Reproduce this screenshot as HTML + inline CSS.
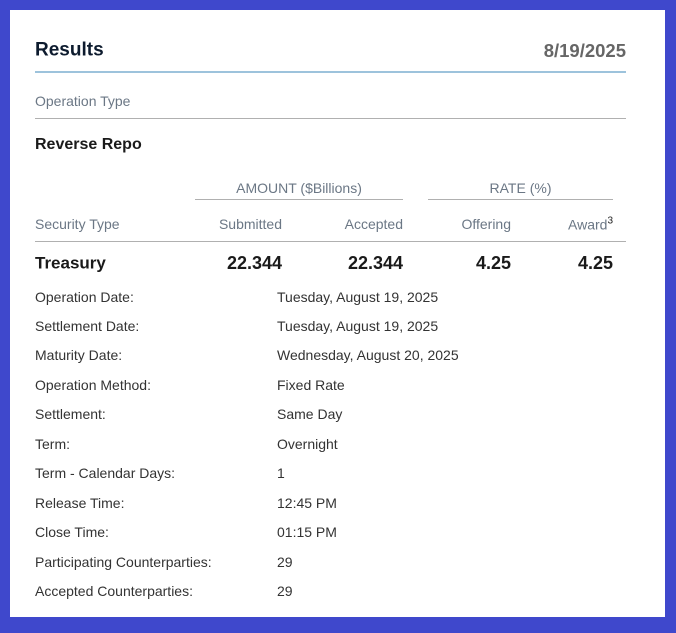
<!DOCTYPE html>
<html><head><meta charset="utf-8"><style>
body{margin:0;width:676px;height:633px;background:#3f48cc;position:relative;overflow:hidden;font-family:"Liberation Sans",sans-serif;}
#card{position:absolute;left:10px;top:10px;width:655px;height:607px;background:#fff;}
.t{position:absolute;white-space:nowrap;line-height:1;transform:translateY(-50%);}
.l{position:absolute;height:1px;}
.g{color:#6b7785;font-size:14px;}
.d{color:#333;font-size:14px;}
.b{color:#1a1a1a;font-weight:bold;font-size:18px;}
.r{text-align:right;}
</style></head><body>
<div id="card"></div>
<div class="t" style="left:35px;top:50px;font-size:19px;font-weight:bold;color:#0d1b2e">Results</div>
<div class="t" style="right:50px;top:51px;font-size:18.5px;font-weight:bold;color:#666">8/19/2025</div>
<div class="l" style="left:35px;width:591px;top:71px;height:2px;background:#9dc3dc"></div>
<div class="t g" style="left:35px;top:101px">Operation Type</div>
<div class="l" style="left:35px;width:591px;top:118px;background:#b0b0b0"></div>
<div class="t" style="left:35px;top:145px;font-size:16px;font-weight:bold;color:#1a1a1a">Reverse Repo</div>
<div class="t g" style="left:195px;width:208px;text-align:center;top:188px">AMOUNT ($Billions)</div>
<div class="l" style="left:195px;width:208px;top:199px;background:#b0b0b0"></div>
<div class="t g" style="left:428px;width:185px;text-align:center;top:188px">RATE (%)</div>
<div class="l" style="left:428px;width:185px;top:199px;background:#b0b0b0"></div>
<div class="t g" style="left:35px;top:224px">Security Type</div>
<div class="t g r" style="right:394px;top:224px">Submitted</div>
<div class="t g r" style="right:273px;top:224px">Accepted</div>
<div class="t g r" style="right:165px;top:224px">Offering</div>
<div class="t g r" style="right:63px;top:224px">Award<sup style="font-size:10px;color:#222">3</sup></div>
<div class="l" style="left:35px;width:591px;top:241px;background:#b0b0b0"></div>
<div class="t b" style="left:35px;top:263px;font-size:17px">Treasury</div>
<div class="t b r" style="right:394px;top:263px">22.344</div>
<div class="t b r" style="right:273px;top:263px">22.344</div>
<div class="t b r" style="right:165px;top:263px">4.25</div>
<div class="t b r" style="right:63px;top:263px">4.25</div>
<div class="t d" style="left:35px;top:297px">Operation Date:</div><div class="t d" style="left:277px;top:297px">Tuesday, August 19, 2025</div>
<div class="t d" style="left:35px;top:326px">Settlement Date:</div><div class="t d" style="left:277px;top:326px">Tuesday, August 19, 2025</div>
<div class="t d" style="left:35px;top:355px">Maturity Date:</div><div class="t d" style="left:277px;top:355px">Wednesday, August 20, 2025</div>
<div class="t d" style="left:35px;top:385px">Operation Method:</div><div class="t d" style="left:277px;top:385px">Fixed Rate</div>
<div class="t d" style="left:35px;top:414px">Settlement:</div><div class="t d" style="left:277px;top:414px">Same Day</div>
<div class="t d" style="left:35px;top:444px">Term:</div><div class="t d" style="left:277px;top:444px">Overnight</div>
<div class="t d" style="left:35px;top:473px">Term - Calendar Days:</div><div class="t d" style="left:277px;top:473px">1</div>
<div class="t d" style="left:35px;top:503px">Release Time:</div><div class="t d" style="left:277px;top:503px">12:45 PM</div>
<div class="t d" style="left:35px;top:532px">Close Time:</div><div class="t d" style="left:277px;top:532px">01:15 PM</div>
<div class="t d" style="left:35px;top:562px">Participating Counterparties:</div><div class="t d" style="left:277px;top:562px">29</div>
<div class="t d" style="left:35px;top:591px">Accepted Counterparties:</div><div class="t d" style="left:277px;top:591px">29</div>
</body></html>
